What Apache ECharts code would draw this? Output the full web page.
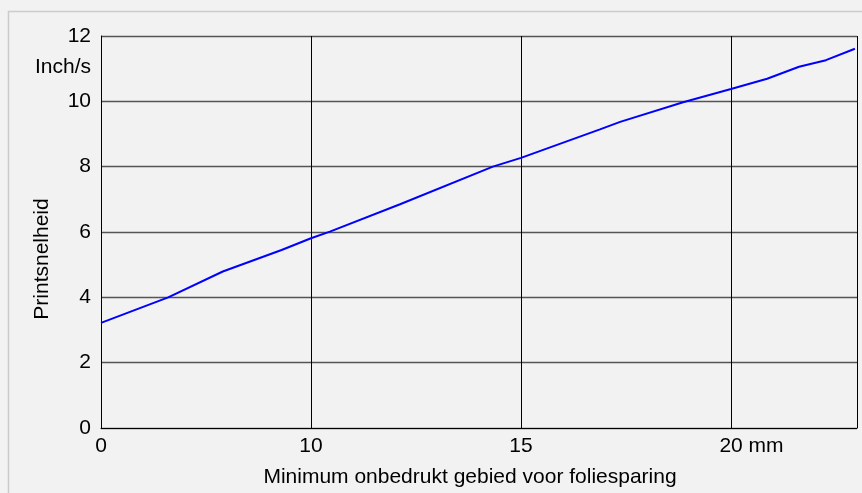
<!DOCTYPE html>
<html>
<head>
<meta charset="utf-8">
<script src="https://cdn.jsdelivr.net/npm/echarts@6/dist/echarts.min.js"></script>
<style>
  html, body { margin: 0; padding: 0; background: #f2f2f2; }
  #chart { width: 862px; height: 493px; }
</style>
</head>
<body>
<div id="chart"></div>
<script>
// x positions on the drawn scale (first tick is labelled 0 but sits at 5)
var xValues = [5, 6.6, 7.9, 9.3, 10, 10.45, 12.12, 14.33, 15, 16.88, 17.36, 18.86, 20, 20.86, 21.62, 22.26, 22.95];
var speedValues = [3.22, 4.0, 4.79, 5.45, 5.81, 6.01, 6.85, 8.0, 8.27, 9.14, 9.37, 9.97, 10.38, 10.69, 11.06, 11.26, 11.61];
var xTicks = [5, 10, 15, 20];
var xTickLabels = ['0', '10', '15', '20 mm'];

var font = "'Liberation Sans', Arial, sans-serif";
var points = [];
for (var i = 0; i < xValues.length; i++) {
    points.push([xValues[i], speedValues[i]]);
}

var chart = echarts.init(document.getElementById('chart'));
chart.setOption({
    backgroundColor: '#f2f2f2',
    animation: false,
    grid: { left: 101, top: 36, right: 5, bottom: 65 },
    graphic: [
        { type: 'rect', z: -10, shape: { x: 8.5, y: 11.5, width: 900, height: 600 },
          style: { fill: 'none', stroke: '#cccccc', lineWidth: 1.5 } },
        { type: 'text', x: 91, y: 67, style: { text: 'Inch/s', font: '21px ' + font, fill: '#000', align: 'right', verticalAlign: 'middle' } },
        { type: 'text', x: 42, y: 259, rotation: Math.PI / 2,
          style: { text: 'Printsnelheid', font: '21px ' + font, fill: '#000', align: 'center', verticalAlign: 'middle' } },
        { type: 'text', x: 470, y: 477, style: { text: 'Minimum onbedrukt gebied voor foliesparing', font: '21px ' + font, fill: '#000', align: 'center', verticalAlign: 'middle' } }
    ],
    xAxis: {
        type: 'value', min: 5, max: 23, interval: 5,
        axisLine: { lineStyle: { color: '#000', width: 1 } },
        axisTick: { show: false },
        splitLine: { show: true, lineStyle: { color: '#000', width: 1 } },
        axisLabel: {
            margin: 8, color: '#000', fontSize: 21, fontFamily: font,
            showMaxLabel: false,
            formatter: function (v) {
                var idx = xTicks.indexOf(v);
                if (idx < 0) return '';
                var t = xTickLabels[idx];
                return t.indexOf(' ') > 0 ? '{p|}' + t : t;
            },
            rich: { p: { width: 41 } }
        }
    },
    yAxis: {
        type: 'value', min: 0, max: 12, interval: 2,
        axisLine: { show: true, lineStyle: { color: '#000', width: 1 } },
        axisTick: { show: false },
        splitLine: { lineStyle: { color: '#555', width: 1.3 } },
        axisLabel: { margin: 10, color: '#000', fontSize: 21, fontFamily: font }
    },
    series: [{
        type: 'line',
        data: points,
        symbol: 'none',
        lineStyle: { color: '#0000ff', width: 2 }
    }]
});
</script>
</body>
</html>
